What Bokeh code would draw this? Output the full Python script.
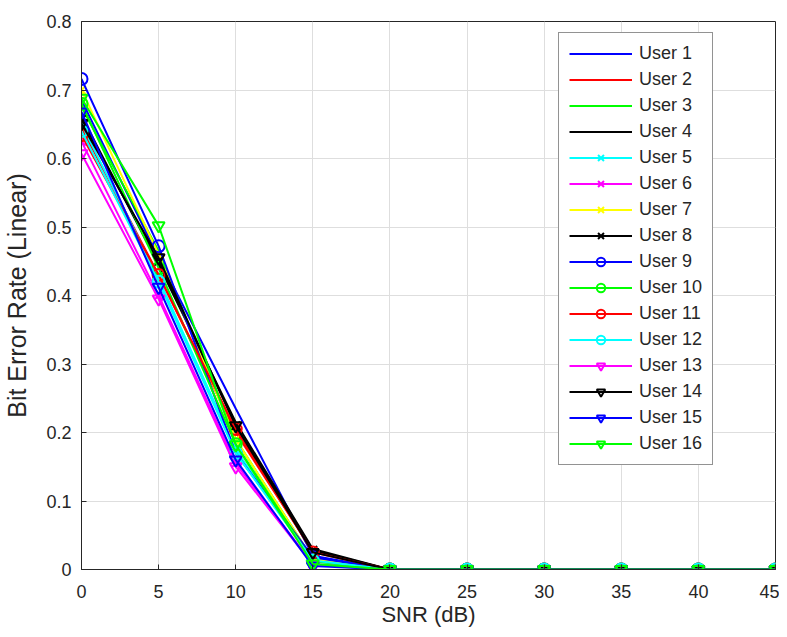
from bokeh.plotting import figure
from bokeh.models import (Range1d, FixedTicker, Legend, LegendItem,
                          CustomJSTickFormatter)
from bokeh.embed import file_html
from bokeh.resources import INLINE

# ---------------- data ----------------
snr_db = [0, 5, 10, 15, 20, 25, 30, 35, 40, 45]

ber_user1 = [0.685, 0.455, 0.235, 0.020, 0, 0, 0, 0, 0, 0]
ber_user2 = [0.645, 0.430, 0.200, 0.027, 0, 0, 0, 0, 0, 0]
ber_user3 = [0.675, 0.465, 0.190, 0.015, 0, 0, 0, 0, 0, 0]
ber_user4 = [0.662, 0.445, 0.215, 0.030, 0, 0, 0, 0, 0, 0]
ber_user5 = [0.650, 0.425, 0.175, 0.012, 0, 0, 0, 0, 0, 0]
ber_user6 = [0.625, 0.400, 0.155, 0.008, 0, 0, 0, 0, 0, 0]
ber_user7 = [0.700, 0.460, 0.190, 0.015, 0, 0, 0, 0, 0, 0]
ber_user8 = [0.657, 0.450, 0.210, 0.028, 0, 0, 0, 0, 0, 0]
ber_user9 = [0.716, 0.472, 0.170, 0.018, 0, 0, 0, 0, 0, 0]
ber_user10 = [0.680, 0.440, 0.183, 0.012, 0, 0, 0, 0, 0, 0]
ber_user11 = [0.634, 0.430, 0.205, 0.025, 0, 0, 0, 0, 0, 0]
ber_user12 = [0.640, 0.420, 0.170, 0.013, 0, 0, 0, 0, 0, 0]
ber_user13 = [0.607, 0.395, 0.150, 0.007, 0, 0, 0, 0, 0, 0]
ber_user14 = [0.651, 0.455, 0.210, 0.025, 0, 0, 0, 0, 0, 0]
ber_user15 = [0.668, 0.412, 0.160, 0.005, 0, 0, 0, 0, 0, 0]
ber_user16 = [0.688, 0.502, 0.182, 0.008, 0, 0, 0, 0, 0, 0]

user_names = ["User %d" % i for i in range(1, 17)]
user_series = [ber_user1, ber_user2, ber_user3, ber_user4, ber_user5, ber_user6,
               ber_user7, ber_user8, ber_user9, ber_user10, ber_user11, ber_user12,
               ber_user13, ber_user14, ber_user15, ber_user16]
user_colors = ["#0000ff", "#ff0000", "#00ff00", "#000000",
               "#00ffff", "#ff00ff", "#ffff00", "#000000",
               "#0000ff", "#00ff00", "#ff0000", "#00ffff",
               "#ff00ff", "#000000", "#0000ff", "#00ff00"]
user_markers = [None, None, None, None,
                "x", "x", "x", "x",
                "circle", "circle", "circle", "circle",
                "inverted_triangle", "inverted_triangle", "inverted_triangle", "inverted_triangle"]

x_ticks = [0, 5, 10, 15, 20, 25, 30, 35, 40, 45]
y_ticks = [0, 0.1, 0.2, 0.3, 0.4, 0.5, 0.6, 0.7, 0.8]

# ---------------- figure ----------------
AX = "#262626"
FONT = "Liberation Sans"

p = figure(width=779, height=629, output_backend="svg", toolbar_location=None,
           x_range=Range1d(0, 45), y_range=Range1d(0, 0.8),
           min_border_left=81, min_border_right=4, min_border_top=21, min_border_bottom=60,
           x_axis_label="SNR (dB)", y_axis_label="Bit Error Rate (Linear)")
p.background_fill_color = "white"
p.border_fill_color = "white"
p.outline_line_color = AX
p.outline_line_width = 1

p.xaxis.ticker = FixedTicker(ticks=x_ticks)
p.yaxis.ticker = FixedTicker(ticks=y_ticks)
p.yaxis.formatter = CustomJSTickFormatter(
    code="var s = tick.toFixed(1); return s === '0.0' ? '0' : s;")

for ax in (p.xaxis[0], p.yaxis[0]):
    ax.axis_line_color = AX
    ax.major_tick_line_color = AX
    ax.major_tick_in = 5
    ax.major_tick_out = 0
    ax.minor_tick_line_color = None
    ax.major_label_text_font = FONT
    ax.major_label_text_font_size = "18px"
    ax.major_label_text_color = AX
    ax.axis_label_text_font = FONT
    ax.axis_label_text_font_style = "normal"
    ax.axis_label_text_color = AX

p.xaxis.major_label_standoff = 15
p.xaxis.axis_label_standoff = 1
p.xaxis.axis_label_text_font_size = "22px"
p.yaxis.major_label_standoff = 10
p.yaxis.axis_label_standoff = 12
p.yaxis.axis_label_text_font_size = "25px"

p.xgrid.grid_line_color = "#dedede"
p.ygrid.grid_line_color = "#dedede"
p.xgrid.grid_line_width = 1
p.ygrid.grid_line_width = 1

# ---------------- series ----------------
items = []
for name, ys, col, mk in zip(user_names, user_series, user_colors, user_markers):
    rs = [p.line(snr_db, ys, line_color=col, line_width=2)]
    if mk is not None:
        size = 12 if mk == "x" else 12
        rs.append(p.scatter(snr_db, ys, marker=mk, size=size, line_color=col,
                            fill_color=None, line_width=2))
    items.append(LegendItem(label=name, renderers=rs))

legend = Legend(items=items, location=(477, 104), orientation="vertical",
                label_text_font=FONT, label_text_font_size="18px",
                label_text_color=AX, glyph_width=63, glyph_height=21,
                label_height=21, label_standoff=7, spacing=5, padding=10,
                margin=0, border_line_color=AX, border_line_width=1,
                background_fill_color="white", background_fill_alpha=1)
p.add_layout(legend, "center")

open("out.html", "w").write(file_html(p, INLINE))
